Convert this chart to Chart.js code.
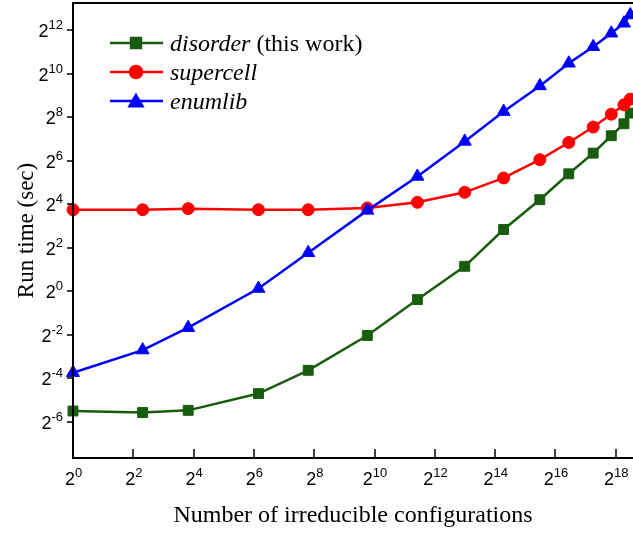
<!DOCTYPE html>
<html>
<head>
<meta charset="utf-8">
<script src="https://cdn.jsdelivr.net/npm/chart.js@4/dist/chart.umd.min.js"></script>
<style>
html,body{margin:0;padding:0;background:#fff;overflow:hidden;}
canvas{display:block;}
</style>
</head>
<body>
<canvas id="c" width="633" height="535" style="width:633px;height:535px"></canvas>
<script>
// log2 of number of irreducible configurations (x), shared by all series
const configExp = [0, 2.31, 3.82, 6.15, 7.80, 9.76, 11.42, 12.99, 14.28, 15.48, 16.44, 17.25, 17.85, 18.27, 18.48];
// log2 of run time in seconds
const disorderExp = [-5.51, -5.58, -5.48, -4.71, -3.64, -2.04, -0.39, 1.14, 2.83, 4.20, 5.39, 6.34, 7.14, 7.69, 8.18];
const supercellExp = [3.74, 3.74, 3.79, 3.74, 3.74, 3.82, 4.08, 4.54, 5.20, 6.04, 6.83, 7.54, 8.13, 8.56, 8.82];
const enumlibExp = [-3.75, -2.71, -1.68, 0.12, 1.76, 3.71, 5.27, 6.88, 8.25, 9.43, 10.47, 11.23, 11.85, 12.31, 12.69];
const seriesNames = ['disorder', 'supercell', 'enumlib'];
const xTickExp = [0, 2, 4, 6, 8, 10, 12, 14, 16, 18];
const yTickExp = [-6, -4, -2, 0, 2, 4, 6, 8, 10, 12];
const xTitle = 'Number of irreducible configurations';
const yTitle = 'Run time (sec)';

const GREEN = '#185c0e', RED = '#ff0000', BLUE = '#0000ff';
const toPts = ys => configExp.map((e, i) => ({x: Math.pow(2, e), y: Math.pow(2, ys[i])}));

const axesPlugin = {
  id: 'axesDeco',
  afterDatasetsDraw(chart) {
    const {ctx, chartArea: a, scales: {x, y}} = chart;
    ctx.save();
    ctx.strokeStyle = '#000';
    ctx.lineWidth = 2;
    ctx.beginPath();
    ctx.moveTo(a.left, a.top); ctx.lineTo(a.right, a.top);
    ctx.moveTo(a.left, a.top - 1); ctx.lineTo(a.left, a.bottom + 1);
    ctx.moveTo(a.left - 1, a.bottom); ctx.lineTo(a.right, a.bottom);
    ctx.stroke();
    ctx.lineWidth = 1.5;
    ctx.beginPath();
    xTickExp.forEach(e => {
      const px = Math.round(x.getPixelForValue(Math.pow(2, e)));
      ctx.moveTo(px, a.bottom); ctx.lineTo(px, a.bottom - 9);
    });
    yTickExp.forEach(e => {
      const py = Math.round(y.getPixelForValue(Math.pow(2, e)));
      ctx.moveTo(a.left, py); ctx.lineTo(a.left - 6, py);
    });
    ctx.stroke();

    // tick labels with superscripts
    ctx.fillStyle = '#000';
    ctx.textBaseline = 'alphabetic';
    const big = '18px "Liberation Sans", Arial, sans-serif';
    const sm = '13px "Liberation Sans", Arial, sans-serif';
    const measure = (e) => {
      ctx.font = big; const w1 = ctx.measureText('2').width;
      ctx.font = sm; const w2 = ctx.measureText(String(e)).width;
      return [w1, w2];
    };
    const drawLbl = (e, left, base) => {
      const [w1] = measure(e);
      ctx.font = big; ctx.textAlign = 'left'; ctx.fillText('2', left, base);
      ctx.font = sm; ctx.fillText(String(e), left + w1, base - 8);
    };
    xTickExp.forEach(e => {
      const px = x.getPixelForValue(Math.pow(2, e));
      const [w1, w2] = measure(e);
      drawLbl(e, px - (w1 + w2) / 2 + 0.5, a.bottom + 27);
    });
    yTickExp.forEach(e => {
      const py = y.getPixelForValue(Math.pow(2, e));
      const [w1, w2] = measure(e);
      drawLbl(e, 63 - (w1 + w2), py + 7);
    });

    // axis titles
    ctx.font = '24px "Liberation Serif", "Times New Roman", serif';
    ctx.textAlign = 'center';
    ctx.fillText(xTitle, (a.left + a.right) / 2, 522);
    ctx.save();
    ctx.font = '23px "Liberation Serif", "Times New Roman", serif';
    ctx.translate(33, (a.top + a.bottom) / 2);
    ctx.rotate(-Math.PI / 2);
    ctx.fillText(yTitle, 0, 0);
    ctx.restore();

    // legend
    const rows = [
      {name: seriesNames[0], extra: ' (this work)', color: GREEN, style: 'rect', r: 7},
      {name: seriesNames[1], extra: '', color: RED, style: 'circle', r: 6},
      {name: seriesNames[2], extra: '', color: BLUE, style: 'triangle', r: 7.5}
    ];
    rows.forEach((row, i) => {
      const ly = 43 + i * 29;
      ctx.strokeStyle = row.color; ctx.lineWidth = 2.5;
      ctx.beginPath(); ctx.moveTo(110, ly); ctx.lineTo(163, ly); ctx.stroke();
      ctx.fillStyle = row.color;
      Chart.helpers.drawPoint(ctx, {pointStyle: row.style, radius: row.r, borderWidth: 1, rotation: 0}, 136, row.style === 'triangle' ? ly + 1.5 : ly);
      ctx.fill();
      ctx.fillStyle = '#000';
      ctx.textAlign = 'left';
      ctx.font = 'italic 24px "Liberation Serif", "Times New Roman", serif';
      ctx.fillText(row.name, 170, ly + 8);
      if (row.extra) {
        const w = ctx.measureText(row.name).width;
        ctx.font = '24px "Liberation Serif", "Times New Roman", serif';
        ctx.fillText(row.extra, 170 + w, ly + 8);
      }
    });
    ctx.restore();
  }
};

const mk = (label, ys, color, style, r, order) => ({
  label, data: toPts(ys), borderColor: color, backgroundColor: color,
  pointBackgroundColor: color, pointBorderColor: color, pointStyle: style,
  pointRadius: r, pointBorderWidth: 1, borderWidth: 2.5, tension: 0, order, clip: false
});

new Chart(document.getElementById('c'), {
  type: 'line',
  data: {
    datasets: [
      mk(seriesNames[0], disorderExp, GREEN, 'rect', 7, 2),
      mk(seriesNames[1], supercellExp, RED, 'circle', 6, 1),
      mk(seriesNames[2], enumlibExp, BLUE, 'triangle', 7.5, 0)
    ]
  },
  options: {
    responsive: false, maintainAspectRatio: false, animation: false, devicePixelRatio: 1,
    layout: {autoPadding: false, padding: {left: 73, top: 3, right: 0, bottom: 77}},
    plugins: {legend: {display: false}, tooltip: {enabled: false}},
    scales: {
      x: {
        type: 'logarithmic', display: false, min: 1, max: Math.pow(2, 18.57),
        afterBuildTicks: s => { s.ticks = xTickExp.map(e => ({value: Math.pow(2, e)})); }
      },
      y: {
        type: 'logarithmic', display: false, min: Math.pow(2, -7.67), max: Math.pow(2, 13.24),
        afterBuildTicks: s => { s.ticks = yTickExp.map(e => ({value: Math.pow(2, e)})); }
      }
    }
  },
  plugins: [axesPlugin]
});
</script>
</body>
</html>
